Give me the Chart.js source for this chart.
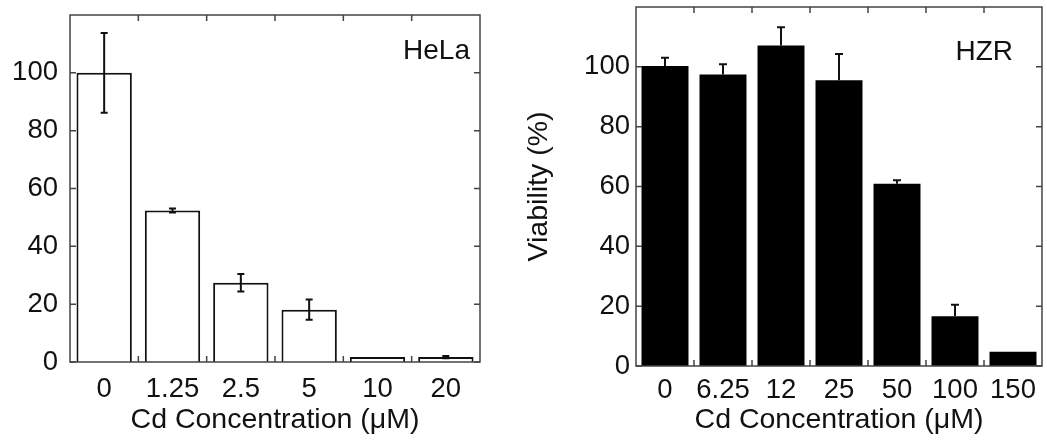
<!DOCTYPE html>
<html>
<head>
<meta charset="utf-8">
<script src="https://cdn.jsdelivr.net/npm/chart.js@4/dist/chart.umd.min.js"></script>
<style>
  body { margin: 0; background: #fff; }
  .wrap { position: absolute; top: 0; height: 443px; }
  #left { left: 0; width: 500px; }
  #right { left: 520px; width: 527px; }
</style>
</head>
<body>
<div class="wrap" id="left"><canvas id="helaChart"></canvas></div>
<div class="wrap" id="right"><canvas id="hzrChart"></canvas></div>
<script>
// dados
const helaLabels = ['0', '1.25', '2.5', '5', '10', '20']
const helaValues = [100, 52.4, 27.4, 18.1, 1.7, 1.7]
const helaErrors = [13.8, 0.7, 3, 3.5, 0, 0.4]

const hzrLabels = ['0', '6.25', '12', '25', '50', '100', '150']
const hzrValues = [100.3, 97.4, 107.1, 95.5, 60.9, 16.6, 4.8]
const hzrErrors = [2.7, 3.5, 6.1, 8.8, 1.2, 3.9, 0]

const yTicks = [0, 20, 40, 60, 80, 100]

const FONT = 'Liberation Sans, Arial, sans-serif'
Chart.defaults.font.family = FONT
Chart.defaults.color = '#111'

// moldura com marcas internas
const framePlugin = {
    id: 'frame',
    afterDatasetsDraw(chart) {
        const { ctx, chartArea: a, scales } = chart
        const x = scales.x
        const y = scales.y
        ctx.save()
        ctx.strokeStyle = '#444'
        ctx.lineWidth = 1.5
        ctx.strokeRect(a.left, a.top, a.right - a.left, a.bottom - a.top)
        ctx.beginPath()
        yTicks.forEach((v) => {
            const py = y.getPixelForValue(v)
            ctx.moveTo(a.left, py); ctx.lineTo(a.left + 6, py)
            ctx.moveTo(a.right, py); ctx.lineTo(a.right - 6, py)
        })
        const n = chart.data.labels.length
        for (let i = 0; i < n - 1; i++) {
            const px = (x.getPixelForValue(i) + x.getPixelForValue(i + 1)) / 2
            ctx.moveTo(px, a.bottom); ctx.lineTo(px, a.bottom - 6)
            ctx.moveTo(px, a.top); ctx.lineTo(px, a.top + 6)
        }
        ctx.stroke()
        ctx.restore()
    }
}

// barras de erro
const errorBarPlugin = {
    id: 'errorBars',
    afterDatasetsDraw(chart, args, opts) {
        const { ctx, scales } = chart
        const meta = chart.getDatasetMeta(0)
        ctx.save()
        ctx.strokeStyle = '#111'
        ctx.lineWidth = 2
        meta.data.forEach((bar, i) => {
            const err = opts.errors[i]
            if (!err) return
            const v = chart.data.datasets[0].data[i]
            const top = scales.y.getPixelForValue(v + err)
            const bottom = scales.y.getPixelForValue(opts.upperOnly ? v : v - err)
            const half = opts.cap / 2
            ctx.beginPath()
            ctx.moveTo(bar.x, top); ctx.lineTo(bar.x, bottom)
            ctx.moveTo(bar.x - half, top); ctx.lineTo(bar.x + half, top)
            if (!opts.upperOnly) {
                ctx.moveTo(bar.x - half, bottom); ctx.lineTo(bar.x + half, bottom)
            }
            ctx.stroke()
        })
        ctx.restore()
    }
}

// rótulo da linhagem celular
const cellLabelPlugin = {
    id: 'cellLabel',
    afterDraw(chart, args, opts) {
        const { ctx, chartArea: a } = chart
        ctx.save()
        ctx.font = '28px ' + FONT
        ctx.fillStyle = '#111'
        ctx.textAlign = 'right'
        ctx.textBaseline = 'middle'
        ctx.fillText(opts.text, a.right - opts.dx, a.top + opts.dy)
        ctx.restore()
    }
}

function makeChart(id, cfg) {
    const el = document.getElementById(id)
    return new Chart(el, {
        type: 'bar',
        data: {
            labels: cfg.labels,
            datasets: [{
                data: cfg.values,
                backgroundColor: cfg.fill,
                borderColor: '#111',
                borderWidth: cfg.border,
                barPercentage: 0.81,
                categoryPercentage: 1
            }]
        },
        options: {
            responsive: true,
            maintainAspectRatio: false,
            animation: false,
            layout: { padding: cfg.padding },
            plugins: {
                legend: { display: false },
                tooltip: { enabled: false },
                errorBars: { errors: cfg.errors, upperOnly: cfg.upperOnly, cap: cfg.cap },
                cellLabel: { text: cfg.cell, dx: cfg.cellDx, dy: cfg.cellDy }
            },
            scales: {
                x: {
                    grid: { display: false, drawTicks: false },
                    border: { display: false },
                    ticks: { font: { size: 27.5 }, padding: cfg.xPad, maxRotation: 0, autoSkip: false },
                    title: {
                        display: true,
                        text: 'Cd Concentration (μM)',
                        font: { size: 28.5 },
                        padding: { top: 0, bottom: 6 }
                    },
                    afterFit: (s) => {
                        s.height = cfg.xHeight
                        s.paddingLeft = 0
                        s.paddingRight = 0
                    }
                },
                y: {
                    min: 0,
                    max: 120,
                    grid: { display: false, drawTicks: false },
                    border: { display: false },
                    afterBuildTicks: (s) => { s.ticks = yTicks.map((v) => ({ value: v })) },
                    ticks: { font: { size: 27.5 }, padding: cfg.yPad },
                    title: {
                        display: !!cfg.yTitle,
                        text: cfg.yTitle,
                        font: { size: 28.5 },
                        padding: { top: 2, bottom: 0 }
                    },
                    afterFit: (s) => {
                        s.width = cfg.yWidth
                        s.paddingTop = 0
                        s.paddingBottom = 0
                    }
                }
            }
        },
        plugins: [framePlugin, errorBarPlugin, cellLabelPlugin]
    })
}

makeChart('helaChart', {
    labels: helaLabels,
    values: helaValues,
    errors: helaErrors,
    fill: '#fff',
    border: 2,
    upperOnly: false,
    cap: 7,
    cell: 'HeLa',
    cellDx: 10,
    cellDy: 36,
    padding: { left: 0, top: 15, right: 20, bottom: 0 },
    xHeight: 81,
    xPad: 11,
    yWidth: 70,
    yPad: 12
})

makeChart('hzrChart', {
    labels: hzrLabels,
    values: hzrValues,
    errors: hzrErrors,
    fill: '#000',
    border: 0,
    upperOnly: true,
    cap: 8,
    cell: 'HZR',
    cellDx: 29,
    cellDy: 45,
    padding: { left: 0, top: 7, right: 5, bottom: 0 },
    xHeight: 77,
    xPad: 8,
    yWidth: 116,
    yPad: 6,
    yTitle: 'Viability (%)'
})
</script>
</body>
</html>
